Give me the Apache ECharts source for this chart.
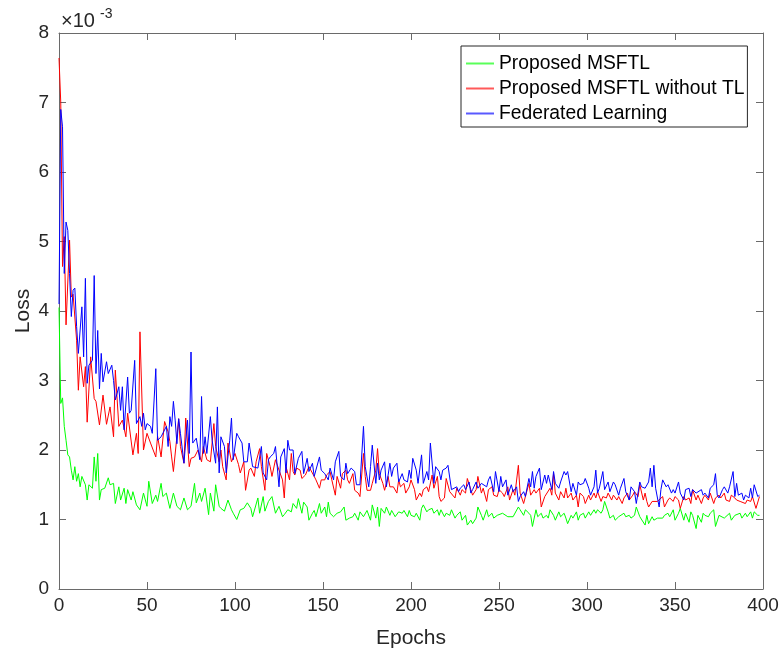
<!DOCTYPE html>
<html>
<head>
<meta charset="utf-8">
<script src="https://cdn.jsdelivr.net/npm/echarts@6/dist/echarts.min.js"></script>
<style>
html,body{margin:0;padding:0;background:#fff;}
#chart{width:782px;height:653px;}
</style>
</head>
<body>
<div id="chart"></div>
<script>
// Loss values are in units of 1e-3 (axis shows ×10^-3)
var xTicks = [0, 50, 100, 150, 200, 250, 300, 350, 400];
var yTicks = [0, 1, 2, 3, 4, 5, 6, 7, 8];
var seriesNames = ['Proposed MSFTL', 'Proposed MSFTL without TL', 'Federated Learning'];
var seriesColors = ['#00ff00', '#ff0000', '#0000ff'];

var greenEpochs = [0,1,2,3,4,5,6,7,8,9,10,11,12,13,14,15,16,17,19,20,21,22,23,24,26,28,29,31,32,34,35,37,38,39,41,42,44,46,48,50,51,53,55,56,58,59,61,63,65,67,69,71,73,75,77,78,80,81,83,85,86,88,89,91,92,94,96,98,99,101,103,105,107,109,110,113,114,116,117,119,121,123,125,127,128,130,132,133,135,136,138,139,141,142,144,145,146,148,149,151,152,153,154,156,158,160,162,163,165,167,168,170,171,173,175,177,178,180,181,182,183,185,186,188,189,191,193,195,196,198,199,200,202,203,205,206,207,209,210,212,213,215,216,217,219,220,222,223,225,226,228,229,231,232,234,235,237,238,240,241,243,244,246,247,249,250,252,253,255,256,258,259,261,262,264,265,267,268,269,271,272,274,275,277,278,279,281,282,284,285,287,288,289,291,292,294,295,296,298,299,301,302,304,305,306,308,309,310,312,313,315,316,318,319,321,322,324,325,327,328,330,331,333,334,335,337,338,340,341,343,344,346,347,349,350,352,353,355,356,358,359,360,362,363,365,366,367,369,370,372,373,375,376,378,379,381,382,384,385,387,388,390,391,393,394,395,397,398];
var greenLoss = [4.05,2.67,2.75,2.34,2.14,1.93,1.9,1.71,1.57,1.76,1.55,1.66,1.47,1.62,1.64,1.5,1.28,1.5,1.45,1.9,1.55,1.95,1.28,1.43,1.45,1.6,1.5,1.52,1.23,1.47,1.28,1.45,1.23,1.43,1.28,1.4,1.21,1.14,1.38,1.19,1.55,1.23,1.35,1.26,1.52,1.33,1.38,1.16,1.38,1.19,1.14,1.31,1.14,1.19,1.52,1.24,1.38,1.26,1.45,1.07,1.38,1.12,1.5,1.19,1.16,1.12,1.28,1.14,1.09,1.0,1.14,1.16,1.24,1.16,1.04,1.31,1.09,1.33,1.12,1.26,1.33,1.09,1.19,1.04,1.07,1.14,1.11,1.23,1.16,1.3,1.09,1.25,1.18,0.99,1.09,1.13,1.04,1.23,1.09,1.18,1.04,1.25,1.09,1.04,1.09,1.11,1.18,0.99,1.02,1.04,1.09,0.99,1.11,1.04,1.13,0.99,1.21,1.02,1.18,0.9,1.16,1.09,1.18,1.06,1.13,1.04,1.11,1.09,1.13,1.04,1.13,1.06,1.04,1.09,0.99,1.16,1.21,1.11,1.14,1.16,1.09,1.14,1.06,1.14,1.04,1.09,1.06,1.14,1.02,1.06,1.11,0.99,1.06,0.92,0.99,0.94,1.02,1.18,1.06,0.99,1.14,1.04,1.09,1.02,1.06,1.04,1.09,1.11,1.04,1.02,1.04,1.02,1.18,1.14,1.06,1.14,1.09,1.06,0.9,1.14,1.04,1.09,1.02,1.06,1.02,1.14,1.06,0.99,1.11,1.04,1.09,1.02,0.94,1.06,1.02,1.11,0.99,1.06,1.09,1.02,1.11,1.06,1.14,1.09,1.14,1.09,1.14,1.26,1.11,1.02,1.06,0.99,1.04,1.02,1.09,1.04,1.06,1.02,1.06,1.18,1.04,1.06,0.92,1.06,0.94,1.04,0.99,1.02,1.04,1.02,1.06,1.09,1.04,1.14,0.99,1.09,1.16,0.99,1.09,0.96,1.11,1.06,0.87,1.06,0.96,1.09,1.06,1.04,1.09,1.14,0.9,1.06,1.06,1.02,1.04,1.09,0.99,1.06,1.04,1.09,1.02,1.09,1.04,1.11,1.02,1.11,1.06,1.06];

var redEpochs = [0,1,2,3,4,6,7,8,10,11,12,14,15,16,18,20,21,23,25,27,29,31,32,34,36,38,39,42,44,45,46,48,50,52,55,56,58,60,62,63,64,65,66,68,69,71,72,74,75,77,79,81,82,84,86,88,89,91,92,93,95,96,98,99,100,102,103,105,106,108,109,111,112,114,115,117,118,120,121,123,125,127,128,129,131,132,133,134,135,137,138,140,142,143,145,146,148,149,151,152,154,155,157,158,160,161,163,164,165,167,168,170,171,173,174,175,177,178,180,181,182,184,185,187,188,190,192,193,194,196,197,199,200,202,203,205,206,207,209,210,212,213,215,216,217,219,220,222,223,225,226,228,229,231,232,234,235,237,238,240,241,243,244,246,247,249,250,252,253,255,256,258,259,261,262,264,265,267,268,269,270,271,273,274,276,277,279,280,281,282,284,285,287,288,289,291,292,294,295,296,298,299,301,302,304,305,306,308,309,311,312,314,315,317,318,320,321,323,324,326,327,329,330,332,333,334,335,337,338,340,341,343,344,346,347,349,350,352,353,355,356,358,359,360,362,363,365,366,367,369,370,372,373,375,376,378,379,381,382,384,385,387,388,390,391,393,394,395,396,398];
var redLoss = [7.64,7.0,4.64,5.07,3.8,5.02,4.2,4.24,3.58,2.86,3.34,2.91,3.2,2.4,3.34,2.74,2.7,2.36,2.79,2.37,2.62,2.19,3.15,2.34,2.43,2.19,2.53,1.93,2.24,1.95,3.7,2.0,2.24,2.1,1.9,2.2,1.9,2.41,2.26,2.12,1.9,1.69,1.67,2.45,2.05,1.81,2.46,1.76,1.88,1.9,2.0,1.83,2.05,1.86,1.83,2.38,2.05,1.83,2.0,1.76,1.57,2.1,1.83,1.81,1.95,1.79,1.67,1.83,1.42,1.71,1.74,1.62,1.83,2.02,1.76,1.42,1.95,1.76,1.62,1.86,1.71,1.57,1.31,1.76,1.57,1.95,1.69,1.64,1.74,1.71,1.59,1.64,1.76,1.78,1.62,1.57,1.45,1.57,1.57,1.64,1.69,1.57,1.35,1.62,1.45,1.66,1.71,1.57,1.52,1.66,1.42,1.38,1.33,1.95,1.62,1.42,1.42,1.52,1.71,2.02,1.66,1.52,1.42,1.62,1.47,1.47,1.38,1.57,1.47,1.52,1.38,1.47,1.57,1.43,1.28,1.38,1.33,1.43,1.47,1.4,1.64,1.45,1.62,1.33,1.26,1.31,1.59,1.4,1.38,1.31,1.45,1.35,1.43,1.38,1.59,1.43,1.35,1.43,1.62,1.38,1.45,1.26,1.43,1.47,1.35,1.33,1.43,1.38,1.33,1.47,1.28,1.43,1.35,1.78,1.38,1.23,1.33,1.52,1.35,1.33,1.43,1.38,1.45,1.18,1.33,1.31,1.45,1.35,1.66,1.38,1.28,1.4,1.31,1.45,1.31,1.38,1.28,1.35,1.18,1.38,1.33,1.23,1.35,1.28,1.38,1.31,1.4,1.26,1.33,1.31,1.38,1.28,1.35,1.28,1.33,1.23,1.31,1.38,1.28,1.35,1.4,1.33,1.5,1.28,1.38,1.26,1.18,1.26,1.28,1.26,1.28,1.33,1.18,1.28,1.31,1.26,1.33,1.28,1.16,1.33,1.28,1.31,1.23,1.43,1.28,1.35,1.23,1.31,1.35,1.28,1.38,1.23,1.31,1.35,1.31,1.38,1.28,1.26,1.35,1.31,1.28,1.26,1.28,1.23,1.28,1.26,1.33,1.35,1.16,1.33];

var blueEpochs = [0,1,2,3,4,5,6,7,8,9,10,11,13,14,15,16,17,19,20,21,22,23,24,25,27,28,30,31,32,34,35,36,37,39,40,41,43,44,46,47,48,49,50,52,53,55,56,58,59,61,62,63,64,65,66,67,68,69,70,71,73,74,75,76,78,80,81,82,83,84,86,87,89,90,91,92,94,95,97,98,99,101,102,104,105,107,108,110,111,113,115,116,118,119,120,122,123,125,126,128,129,130,131,133,134,136,138,139,141,142,144,145,146,148,149,151,153,154,156,157,159,160,162,163,164,166,168,169,171,173,174,176,177,178,180,181,182,183,185,186,188,189,190,192,193,195,196,198,199,200,201,203,204,206,207,209,210,211,213,214,216,217,218,220,221,223,224,226,227,228,230,231,233,234,235,237,238,240,241,243,244,245,247,248,250,251,252,254,255,257,258,260,261,262,264,265,267,268,269,270,271,273,274,276,277,278,280,281,282,284,285,287,288,289,291,292,294,295,296,298,299,301,302,304,305,306,307,309,310,312,313,315,316,318,319,321,322,324,325,327,328,330,331,333,334,335,336,337,338,339,341,342,343,345,346,348,349,350,352,353,355,356,358,359,360,362,363,365,366,367,369,370,372,373,374,375,377,378,380,381,383,384,385,386,388,389,390,392,393,394,395,397,398];
var blueLoss = [4.1,6.9,6.65,4.54,5.28,5.16,4.54,3.92,4.3,4.33,3.78,3.39,4.06,3.34,4.47,2.96,3.22,3.29,4.51,3.1,3.72,2.88,3.39,2.98,3.27,3.1,3.22,3.0,2.72,2.91,2.57,2.91,2.29,3.05,2.53,2.57,3.29,2.38,2.48,2.34,2.53,2.29,2.38,2.34,2.24,3.17,2.14,2.19,2.17,2.34,2.05,2.48,2.34,2.7,2.43,2.09,2.45,2.24,2.24,1.81,2.43,1.95,3.41,2.1,2.17,1.86,2.77,1.95,2.19,1.95,2.48,2.14,1.81,2.62,1.67,2.19,2.05,1.67,2.14,2.46,1.86,2.24,2.19,2.1,1.83,1.83,2.1,1.76,1.76,1.74,2.05,1.67,1.57,1.86,1.9,1.95,2.05,1.47,1.9,2.02,1.67,2.14,2.0,2.0,1.66,1.88,1.98,1.66,1.88,1.69,1.81,1.62,1.64,1.9,1.71,1.66,1.57,1.74,1.57,1.83,1.98,1.62,1.57,1.81,1.66,1.74,1.69,1.5,1.5,2.34,1.76,1.47,1.76,2.07,1.52,1.81,1.57,1.71,1.83,1.47,1.81,1.62,1.74,1.81,1.54,1.66,1.57,1.54,1.71,1.59,1.88,1.71,1.52,1.93,1.52,1.69,1.57,2.1,1.52,1.76,1.69,1.57,1.71,1.74,1.78,1.43,1.45,1.47,1.4,1.45,1.5,1.43,1.54,1.38,1.43,1.54,1.45,1.52,1.54,1.47,1.57,1.62,1.4,1.69,1.4,1.62,1.47,1.57,1.35,1.5,1.4,1.47,1.26,1.33,1.4,1.33,1.59,1.47,1.69,1.45,1.62,1.74,1.43,1.64,1.52,1.64,1.43,1.69,1.52,1.45,1.54,1.69,1.64,1.69,1.4,1.52,1.35,1.54,1.5,1.52,1.59,1.45,1.35,1.47,1.71,1.38,1.45,1.69,1.43,1.54,1.4,1.54,1.5,1.35,1.45,1.59,1.4,1.28,1.47,1.4,1.23,1.54,1.47,1.45,1.43,1.54,1.74,1.47,1.78,1.45,1.18,1.43,1.57,1.47,1.5,1.38,1.43,1.38,1.54,1.38,1.28,1.43,1.45,1.33,1.43,1.38,1.4,1.43,1.35,1.38,1.31,1.45,1.5,1.66,1.35,1.31,1.43,1.47,1.38,1.47,1.69,1.33,1.52,1.35,1.38,1.28,1.35,1.31,1.45,1.31,1.5,1.33,1.35];

function pairs(xs, ys) {
  var out = [];
  for (var i = 0; i < xs.length && i < ys.length; i++) out.push([xs[i], ys[i]]);
  return out;
}

var FONT = 'Liberation Sans, Arial, Helvetica, sans-serif';
var AXIS_COLOR = '#6a6a6a';
var TEXT_COLOR = '#262626';

var chart = echarts.init(document.getElementById('chart'), null, {renderer: 'canvas'});

function axisStyle(showLabel, margin) {
  return {
    axisLine: {show: true, onZero: false, lineStyle: {color: AXIS_COLOR, width: 1}},
    axisTick: {show: true, inside: true, length: 7, lineStyle: {color: AXIS_COLOR, width: 1}},
    splitLine: {show: false},
    axisLabel: {show: showLabel, color: TEXT_COLOR, fontSize: 19, fontFamily: FONT, margin: margin || 8}
  };
}

var option = {
  animation: false,
  backgroundColor: '#ffffff',
  grid: {left: 59, top: 33, width: 704, height: 556, containLabel: false, outerBoundsMode: 'none'},
  xAxis: [
    Object.assign({
      type: 'value', min: xTicks[0], max: xTicks[xTicks.length - 1], interval: xTicks[1] - xTicks[0],
      position: 'bottom',
      name: 'Epochs', nameLocation: 'middle', nameGap: 39, nameMoveOverlap: false,
      nameTextStyle: {color: TEXT_COLOR, fontSize: 21, fontFamily: FONT}
    }, axisStyle(true, 7)),
    Object.assign({
      type: 'value', min: xTicks[0], max: xTicks[xTicks.length - 1], interval: xTicks[1] - xTicks[0],
      position: 'top'
    }, axisStyle(false))
  ],
  yAxis: [
    Object.assign({
      type: 'value', min: yTicks[0], max: yTicks[yTicks.length - 1], interval: yTicks[1] - yTicks[0],
      position: 'left',
      name: 'Loss', nameLocation: 'middle', nameGap: 25, nameRotate: 90, nameMoveOverlap: false,
      nameTextStyle: {color: TEXT_COLOR, fontSize: 21, fontFamily: FONT}
    }, axisStyle(true, 10)),
    Object.assign({
      type: 'value', min: yTicks[0], max: yTicks[yTicks.length - 1], interval: yTicks[1] - yTicks[0],
      position: 'right'
    }, axisStyle(false))
  ],
  legend: {
    orient: 'vertical',
    left: 461, top: 46,
    icon: 'rect',
    itemWidth: 28, itemHeight: 2, itemGap: 4,
    padding: [7, 3, 3, 5],
    backgroundColor: '#ffffff',
    borderColor: '#262626', borderWidth: 1, borderRadius: 0,
    textStyle: {color: '#000000', fontSize: 19.3, fontFamily: FONT, lineHeight: 21},
    data: seriesNames.map(function (n, i) {
      return {name: n, itemStyle: {color: seriesColors[i], opacity: 0.65}};
    })
  },
  graphic: [
    {type: 'text', x: 61, y: 21, style: {text: '×10', fill: TEXT_COLOR, font: '20px ' + FONT, verticalAlign: 'middle', align: 'left'}},
    {type: 'text', x: 100, y: 14, style: {text: '-3', fill: TEXT_COLOR, font: '14px ' + FONT, verticalAlign: 'middle', align: 'left'}}
  ],
  series: [
    {name: seriesNames[0], type: 'line', symbol: 'none', data: pairs(greenEpochs, greenLoss),
      lineStyle: {color: seriesColors[0], width: 1}, itemStyle: {color: seriesColors[0]}, z: 2},
    {name: seriesNames[1], type: 'line', symbol: 'none', data: pairs(redEpochs, redLoss),
      lineStyle: {color: seriesColors[1], width: 1}, itemStyle: {color: seriesColors[1]}, z: 3},
    {name: seriesNames[2], type: 'line', symbol: 'none', data: pairs(blueEpochs, blueLoss),
      lineStyle: {color: seriesColors[2], width: 1}, itemStyle: {color: seriesColors[2]}, z: 4}
  ]
};
chart.setOption(option);
</script>
</body>
</html>
